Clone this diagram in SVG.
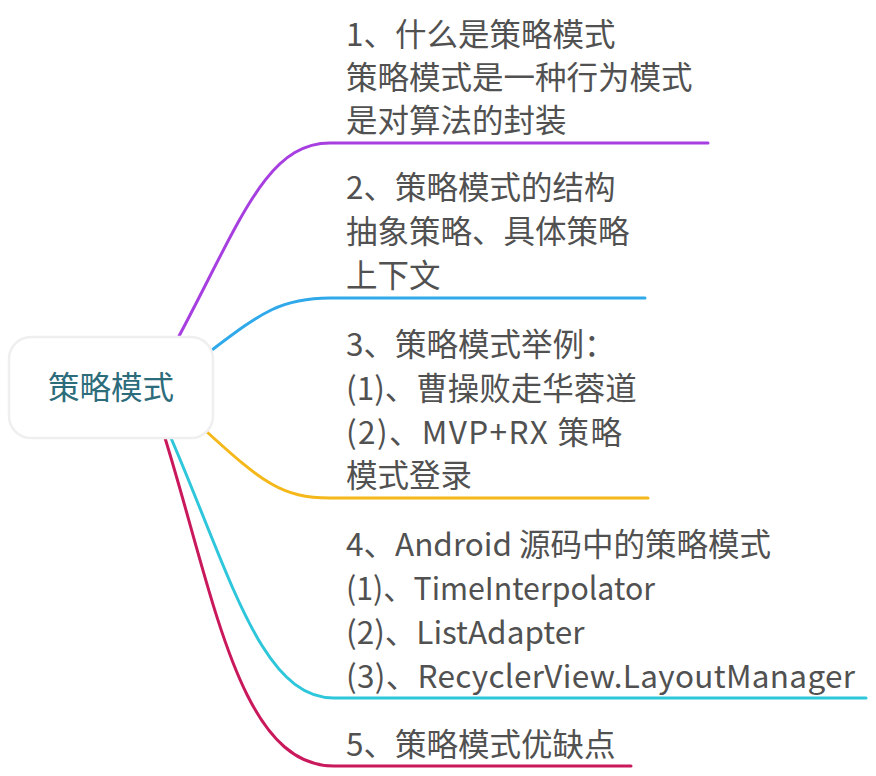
<svg xmlns="http://www.w3.org/2000/svg" width="876" height="776" viewBox="0 0 876 776">
<style>
.t{font-family:"Noto Sans CJK SC","Noto Sans",sans-serif;font-size:31.5px;fill:#515151}
.c{fill:none;stroke-width:3;stroke-linecap:round}
</style>
<rect width="876" height="776" fill="#ffffff"/>
<g id="connectors">
<path class="c" stroke="#a73fe0" d="M178,338 C240,222 266,143 330,143 L708,143"/>
<path class="c" stroke="#2fa9ea" d="M212,350 C262,312 282,298 330,298 L645,298"/>
<path class="c" stroke="#f5b81a" d="M207,432 C262,482 282,498 330,498 L648,498"/>
<path class="c" stroke="#2ec6da" d="M171,438 C232,580 262,698 334,698 L866,698"/>
<path class="c" stroke="#c9195c" d="M165,438 C215,600 240,766 334,766 L631,766"/>
</g>
<g id="root">
<rect x="9" y="337" width="204" height="101" rx="22" fill="#ffffff" stroke="#efefef" stroke-width="2.5"/>
<text x="48" y="399" style="font-family:'Noto Sans CJK SC',sans-serif;font-size:31.5px;fill:#2d6c7b">策略模式</text>
</g>
<g id="n1">
<text class="t" x="346" y="46">1、什么是策略模式</text>
<text class="t" x="346" y="89">策略模式是一种行为模式</text>
<text class="t" x="346" y="132">是对算法的封装</text>
</g>
<g id="n2">
<text class="t" x="346" y="199">2、策略模式的结构</text>
<text class="t" x="346" y="243">抽象策略、具体策略</text>
<text class="t" x="346" y="287">上下文</text>
</g>
<g id="n3">
<text class="t" x="346" y="356">3、策略模式举例：</text>
<text class="t" x="346" y="400">(1)、曹操败走华蓉道</text>
<text class="t" x="346" y="444" textLength="276" lengthAdjust="spacing">(2)、MVP+RX 策略</text>
<text class="t" x="346" y="487">模式登录</text>
</g>
<g id="n4">
<text class="t" x="346" y="556">4、Android 源码中的策略模式</text>
<text class="t" x="346" y="600" textLength="309" lengthAdjust="spacingAndGlyphs">(1)、TimeInterpolator</text>
<text class="t" x="346" y="644">(2)、ListAdapter</text>
<text class="t" x="346" y="688" textLength="509" lengthAdjust="spacing">(3)、RecyclerView.LayoutManager</text>
</g>
<g id="n5">
<text class="t" x="346" y="756">5、策略模式优缺点</text>
</g>
</svg>
